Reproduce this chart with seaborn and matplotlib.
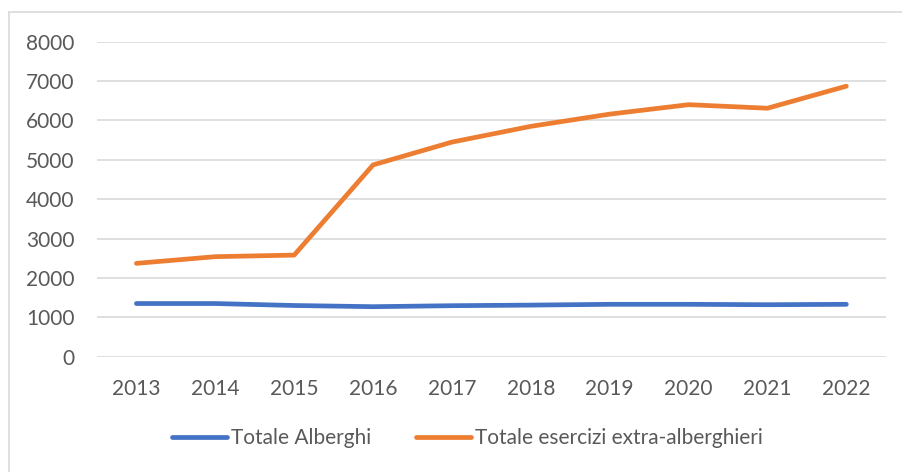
import pandas as pd
import matplotlib.pyplot as plt
import seaborn as sns
from matplotlib.lines import Line2D

# -------------------------
# Data
# -------------------------
years = [2013, 2014, 2015, 2016, 2017, 2018, 2019, 2020, 2021, 2022]
alberghi = [1350, 1350, 1300, 1270, 1295, 1310, 1330, 1330, 1320, 1330]
extra_alberghieri = [2370, 2540, 2580, 4870, 5450, 5850, 6160, 6400, 6310, 6870]

series_names = ["Totale Alberghi", "Totale esercizi extra-alberghieri"]
colors = ["#4472C4", "#ED7D31"]

df = pd.DataFrame({
    "year": years * 2,
    "value": alberghi + extra_alberghieri,
    "serie": [series_names[0]] * len(years) + [series_names[1]] * len(years),
})

# -------------------------
# Plot
# -------------------------
sns.set_style("white")
plt.rcParams["font.family"] = ["Lato", "DejaVu Sans"]

fig = plt.figure(figsize=(9.02, 4.72), dpi=100)
ax = fig.add_axes([0.1075, 0.2443, 0.8745, 0.6674])

sns.lineplot(
    data=df, x="year", y="value", hue="serie",
    palette=colors, linewidth=3.4, ax=ax,
    solid_capstyle="round",
)

ax.set_xlim(2012.5, 2022.5)
ax.set_ylim(0, 8000)
ax.set_xticks(years)
ax.set_yticks(range(0, 8001, 1000))
ax.set_xlabel("")
ax.set_ylabel("")
ax.grid(axis="y", color="#D9D9D9", linewidth=1.2)
ax.set_axisbelow(True)
for s in ax.spines.values():
    s.set_visible(False)
ax.tick_params(axis="both", length=0, labelsize=15, colors="#595959")
ax.tick_params(axis="x", pad=16)
ax.tick_params(axis="y", pad=16)

ax.legend_.remove()
handles, labels = ax.get_legend_handles_labels()
for h in handles:
    h.set_solid_capstyle("round")
fig.legend(
    handles, labels, loc="center", bbox_to_anchor=(0.518, 0.072),
    ncol=2, frameon=False, fontsize=15, handlelength=2.65,
    handletextpad=0.2, columnspacing=2.15, labelcolor="#595959",
)

# light border (left and top edges visible)
fig.add_artist(Line2D([9 / 902, 9 / 902], [0, 1 - 12 / 472], transform=fig.transFigure,
                      color="#D9D9D9", linewidth=1.2))
fig.add_artist(Line2D([9 / 902, 1], [1 - 12 / 472, 1 - 12 / 472], transform=fig.transFigure,
                      color="#D9D9D9", linewidth=1.2))

fig.savefig("out.png", dpi=100)
